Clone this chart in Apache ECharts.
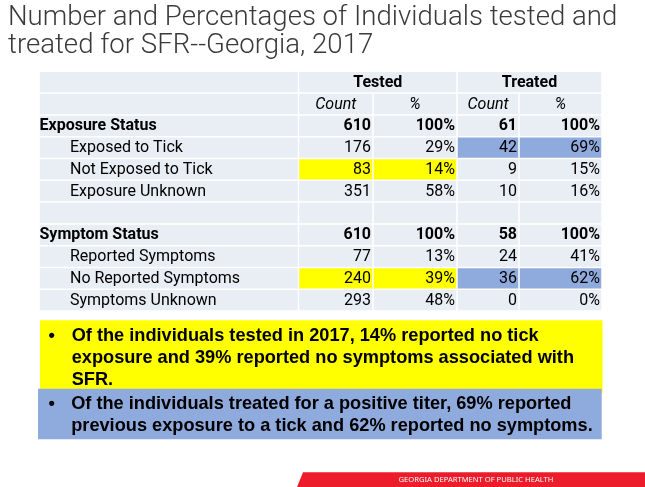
<!DOCTYPE html>
<html>
<head>
<meta charset="utf-8">
<script src="https://cdn.jsdelivr.net/npm/echarts@6/dist/echarts.min.js"></script>
<style>
  html, body { margin: 0; padding: 0; background: #fff; }
  #main { width: 645px; height: 487px; }
</style>
</head>
<body>
<div id="main"></div>
<script>
// slide title
const titleLines = ['Number and Percentages of Individuals tested and', 'treated for SFR--Georgia, 2017'];

// table headings
const columnHeads = ['Tested', 'Treated'];
const subHeads = ['Count', '%', 'Count', '%'];

// exposure block
const exposureStatus = 'Exposure Status';
const exposureTotals = [610, 100, 61, 100];
const exposureRows = ['Exposed to Tick', 'Not Exposed to Tick', 'Exposure Unknown'];
const exposureTestedCount = [176, 83, 351];
const exposureTestedPct = [29, 14, 58];
const exposureTreatedCount = [42, 9, 10];
const exposureTreatedPct = [69, 15, 16];

// symptom block
const symptomStatus = 'Symptom Status';
const symptomTotals = [610, 100, 58, 100];
const symptomRows = ['Reported Symptoms', 'No Reported Symptoms', 'Symptoms Unknown'];
const symptomTestedCount = [77, 240, 293];
const symptomTestedPct = [13, 39, 48];
const symptomTreatedCount = [24, 36, 0];
const symptomTreatedPct = [41, 62, 0];

// highlighted cells
const testedHighlight = ['Not Exposed to Tick', 'No Reported Symptoms'];
const treatedHighlight = ['Exposed to Tick', 'No Reported Symptoms'];

// notes under the table
const testedNote = 'Of the individuals tested in 2017, 14% reported no tick\nexposure and 39% reported no symptoms associated with\nSFR.';
const treatedNote = 'Of the individuals treated for a positive titer, 69% reported\nprevious exposure to a tick and 62% reported no symptoms.';
const footerText = 'GEORGIA DEPARTMENT OF PUBLIC HEALTH';

// layout
const colEdges = [0, 259.5, 334, 418, 480, 563];
const cellBg = '#E9EDF4';
const yellow = '#FFFF00';
const blue = '#8FAADC';
const tableFont = 'Roboto, "Noto Sans", sans-serif';

const cells = [];
let rowIdx = 0;

function addCell(c0, c1, text, align, opts) {
  cells.push(Object.assign({ c0: c0, c1: c1, row: rowIdx, text: text, align: align,
    bold: false, italic: false, pad: 0.5, fill: cellBg }, opts || {}));
}

// header rows
addCell(0, 1, '', 'left');
addCell(1, 3, columnHeads[0], 'center', { bold: true });
addCell(3, 5, columnHeads[1], 'center', { bold: true });
rowIdx++;
addCell(0, 1, '', 'left');
subHeads.forEach((s, i) => addCell(i + 1, i + 2, s, 'center', { italic: true }));
rowIdx++;

function addBlock(status, totals, labels, tc, tp, rc, rp) {
  addCell(0, 1, status, 'left', { bold: true });
  totals.forEach((v, i) => addCell(i + 1, i + 2, i % 2 ? v + '%' : String(v), 'right', { bold: true }));
  rowIdx++;
  labels.forEach((name, k) => {
    const tFill = testedHighlight.indexOf(name) >= 0 ? yellow : cellBg;
    const rFill = treatedHighlight.indexOf(name) >= 0 ? blue : cellBg;
    addCell(0, 1, name, 'left', { pad: 31 });
    addCell(1, 2, String(tc[k]), 'right', { fill: tFill });
    addCell(2, 3, tp[k] + '%', 'right', { fill: tFill });
    addCell(3, 4, String(rc[k]), 'right', { fill: rFill });
    addCell(4, 5, rp[k] + '%', 'right', { fill: rFill });
    rowIdx++;
  });
}

addBlock(exposureStatus, exposureTotals, exposureRows,
  exposureTestedCount, exposureTestedPct, exposureTreatedCount, exposureTreatedPct);
// spacer row
for (let i = 0; i < 5; i++) addCell(i, i + 1, '', 'left');
rowIdx++;
addBlock(symptomStatus, symptomTotals, symptomRows,
  symptomTestedCount, symptomTestedPct, symptomTreatedCount, symptomTreatedPct);

const rowCount = rowIdx;

function renderCell(params, api) {
  const cell = cells[params.dataIndex];
  const r = api.value(2);
  const a = api.coord([colEdges[api.value(0)], r]);
  const b = api.coord([colEdges[api.value(1)], r]);
  const h = api.size([0, 1])[1];
  const x0 = a[0], x1 = b[0], y0 = a[1] - h / 2;
  let tx = (x0 + x1) / 2;
  if (cell.align === 'left') tx = x0 + cell.pad;
  if (cell.align === 'right') tx = x1 - 2;
  return {
    type: 'group',
    children: [
      {
        type: 'rect',
        shape: { x: x0 + 0.75, y: y0 + 0.75, width: x1 - x0 - 1.5, height: h - 1.5 },
        style: { fill: cell.fill }
      },
      {
        type: 'text',
        x: tx,
        y: a[1] + 0.5,
        style: {
          text: cell.text,
          align: cell.align,
          verticalAlign: 'middle',
          fontFamily: tableFont,
          fontSize: 16,
          fontWeight: cell.bold ? 'bold' : 'normal',
          fontStyle: cell.italic ? 'italic' : 'normal',
          fill: '#000'
        }
      }
    ]
  };
}

const chart = echarts.init(document.getElementById('main'));

const noteFont = { fontFamily: '"Liberation Sans", Arial, sans-serif', fontWeight: 'bold', fontSize: 18.2, lineHeight: 22, fill: '#000' };

chart.setOption({
  animation: false,
  title: {
    text: titleLines.join('\n'),
    left: 8,
    top: 4.5,
    padding: 0,
    textStyle: {
      fontFamily: 'Roboto, "Noto Sans", sans-serif',
      fontWeight: 300,
      fontSize: 27.6,
      lineHeight: 28,
      color: '#3A3A3A'
    }
  },
  grid: { left: 39, top: 71.3, width: 563, height: 239.8 },
  xAxis: { type: 'value', min: 0, max: colEdges[colEdges.length - 1], show: false },
  yAxis: {
    type: 'category',
    inverse: true,
    data: Array.from({ length: rowCount }, (_, i) => i),
    show: false
  },
  series: [{
    type: 'custom',
    renderItem: renderCell,
    encode: { x: [0, 1], y: 2 },
    data: cells.map(c => [c.c0, c.c1, c.row]),
    silent: true
  }],
  graphic: [
    { type: 'rect', shape: { x: 40, y: 320.3, width: 562.5, height: 72.7 }, style: { fill: yellow } },
    { type: 'rect', shape: { x: 38, y: 388.7, width: 563.7, height: 50.6 }, style: { fill: blue } },
    { type: 'text', x: 48.5, y: 325, style: Object.assign({ text: '•' }, noteFont) },
    { type: 'text', x: 71.7, y: 325, style: Object.assign({ text: testedNote }, noteFont) },
    { type: 'text', x: 48.5, y: 392.5, style: Object.assign({ text: '•' }, noteFont) },
    { type: 'text', x: 71.2, y: 392.5, style: Object.assign({ text: treatedNote }, noteFont) },
    {
      type: 'polygon',
      shape: { points: [[303, 472.3], [645, 472.3], [645, 487], [297, 487]] },
      style: { fill: '#ED1C2B' }
    },
    {
      type: 'text', x: 476, y: 479.5,
      style: {
        text: footerText, align: 'center', verticalAlign: 'middle',
        fontFamily: '"Noto Sans", sans-serif', fontSize: 7.6, fill: '#fff'
      }
    }
  ]
});
</script>
</body>
</html>
